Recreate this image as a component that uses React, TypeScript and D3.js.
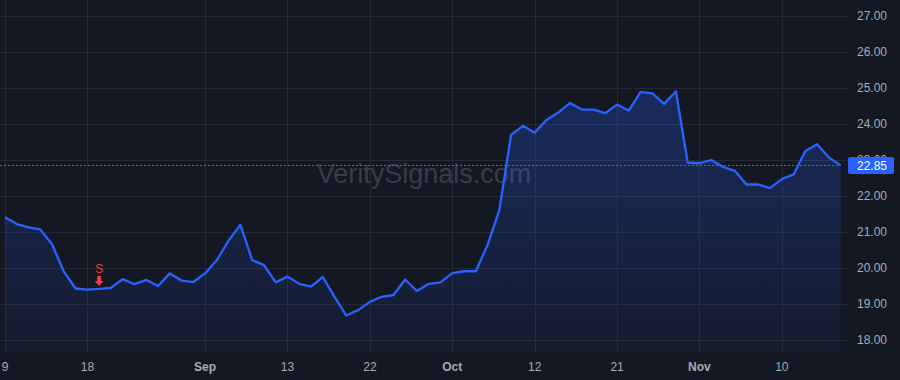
import React, { useEffect } from "react";
import * as d3 from "d3";

// daily closes
const prices = [
  21.41, 21.22, 21.13, 21.07, 20.66, 19.9, 19.43, 19.4, 19.42, 19.45,
  19.69, 19.55, 19.67, 19.5, 19.85, 19.65, 19.61, 19.85, 20.22, 20.76,
  21.2, 20.22, 20.08, 19.6, 19.76, 19.56, 19.48, 19.75, 19.2, 18.68,
  18.83, 19.06, 19.2, 19.25, 19.68, 19.36, 19.56, 19.6, 19.86, 19.91,
  19.91, 20.64, 21.61, 23.7, 23.95, 23.76, 24.11, 24.32, 24.58, 24.4,
  24.4, 24.3, 24.54, 24.37, 24.89, 24.85, 24.56, 24.91, 22.93, 22.91,
  23.0, 22.81, 22.7, 22.32, 22.32, 22.22, 22.47, 22.6, 23.25, 23.44,
  23.07, 22.85,
];

const timeTickIdx = [0, 7, 17, 24, 31, 38, 45, 52, 59, 66];
const timeTickLabels = ["9", "18", "Sep", "13", "22", "Oct", "12", "21", "Nov", "10"];
const monthLabels = ["Sep", "Oct", "Nov"];
const priceTicks = [18, 19, 20, 21, 22, 23, 24, 25, 26, 27];
const lastPrice = 22.85;
const signalIdx = 8;
const signalText = "S";
const watermark = "VeritySignals.com";

const W = 900;
const H = 380;
const plotW = 848;
const plotH = 352;
const font = "'Liberation Sans', Arial, sans-serif";

const App = () => {
  useEffect(() => {
    document.body.style.margin = "0";
    document.body.style.background = "#141823";
  }, []);

  const x = d3.scaleLinear().domain([0, prices.length - 1]).range([5, 840.7]);
  const y = d3.scaleLinear().domain([18, 27]).range([340, 16]);

  const line = d3
    .line<number>()
    .x((d, i) => x(i))
    .y((d) => y(d));
  const area = d3
    .area<number>()
    .x((d, i) => x(i))
    .y0(plotH)
    .y1((d) => y(d));

  const topY = y(d3.max(prices) as number);
  const sx = x(signalIdx);
  const sb = y(prices[signalIdx]) - 3; // arrow tip sits just above the line
  const lastY = Math.round(y(lastPrice)) + 0.5;

  return (
    <svg width={W} height={H} style={{ display: "block", background: "#141823" }}>
      <defs>
        <linearGradient id="fill" gradientUnits="userSpaceOnUse" x1="0" y1={topY} x2="0" y2={plotH}>
          <stop offset="0%" stopColor="#2962ff" stopOpacity={0.27} />
          <stop offset="100%" stopColor="#2962ff" stopOpacity={0.05} />
        </linearGradient>
      </defs>

      {/* grid */}
      <g stroke="#252934" strokeWidth={1}>
        {priceTicks.map((p) => (
          <line key={p} x1={0} x2={plotW} y1={Math.round(y(p)) + 0.5} y2={Math.round(y(p)) + 0.5} />
        ))}
        {timeTickIdx.map((i) => (
          <line key={i} x1={Math.round(x(i)) + 0.5} x2={Math.round(x(i)) + 0.5} y1={0} y2={plotH} />
        ))}
      </g>

      {/* watermark */}
      <text x={424} y={183} textAnchor="middle" fontFamily={font} fontSize={27} fill="#393d48">
        {watermark}
      </text>

      <path d={area(prices) ?? ""} fill="url(#fill)" />
      <path d={line(prices) ?? ""} fill="none" stroke="#2962ff" strokeWidth={2.3} strokeLinejoin="round" />

      {/* last price line */}
      <line x1={0} x2={840.7} y1={lastY} y2={lastY} stroke="#2f6bff" strokeWidth={1} strokeDasharray="2 2" />

      {/* sell marker */}
      <text x={sx} y={sb - 13} textAnchor="middle" fontFamily={font} fontSize={12} fill="#f23645">
        {signalText}
      </text>
      <path
        d={`M${sx - 2},${sb - 10} H${sx + 2} V${sb - 5} H${sx + 4.5} L${sx},${sb} L${sx - 4.5},${sb - 5} H${sx - 2} Z`}
        fill="#f23645"
      />

      {/* price axis (23.00 sits mostly behind the last-price box, as in the source) */}
      <g fontFamily={font} fontSize={12} fill="#a7abb4">
        {priceTicks.map((p) => (
          <text key={p} x={857} y={y(p)} dy="0.35em">
            {p.toFixed(2)}
          </text>
        ))}
      </g>
      <rect x={848} y={y(lastPrice) - 8.5} width={46} height={17} rx={2} fill="#2962ff" />
      <text x={857} y={y(lastPrice)} dy="0.35em" fontFamily={font} fontSize={12} fill="#ffffff">
        {lastPrice.toFixed(2)}
      </text>

      {/* time axis */}
      <g fontFamily={font} fontSize={12} fill="#a7abb4" textAnchor="middle">
        {timeTickIdx.map((i, k) => (
          <text
            key={i}
            x={x(i)}
            y={371}
            fontWeight={monthLabels.includes(timeTickLabels[k]) ? "bold" : "normal"}
          >
            {timeTickLabels[k]}
          </text>
        ))}
      </g>
    </svg>
  );
};

export default App;
